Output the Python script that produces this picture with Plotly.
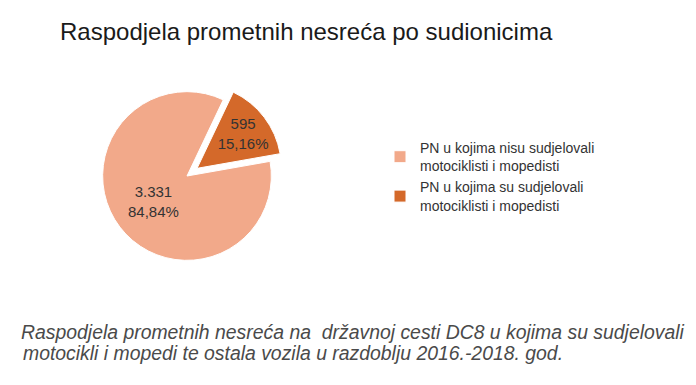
import plotly.graph_objects as go

labels = ["PN u kojima nisu sudjelovali<br>motociklisti i mopedisti",
          "PN u kojima su sudjelovali<br>motociklisti i mopedisti"]
values = [3331, 595]
colors = ["#F2A98A", "#D4692A"]
pulls = [0, 0.15]

title_text = "Raspodjela prometnih nesreća po sudionicima"
caption_lines = ["Raspodjela prometnih nesreća na  državnoj cesti DC8 u kojima su sudjelovali",
                 "motocikli i mopedi te ostala vozila u razdoblju 2016.-2018. god."]

W, H = 696, 385
cx, cy, R = 179, 168, 97

fig = go.Figure(go.Pie(
    labels=labels,
    values=values,
    sort=False,
    direction="clockwise",
    rotation=80,
    pull=pulls,
    marker=dict(colors=colors, line=dict(color="white", width=1)),
    texttemplate="%{value:,}<br>%{percent:.2%}",
    textposition="inside",
    insidetextorientation="horizontal",
    textfont=dict(family="Liberation Sans, Arial", size=15, color="#333333"),
    hoverinfo="skip",
    domain=dict(x=[(cx - R) / W, (cx + R) / W], y=[1 - (cy + R) / H, 1 - (cy - R) / H]),
))

fig.update_layout(
    width=W, height=H, autosize=False,
    margin=dict(l=0, r=0, t=0, b=0),
    paper_bgcolor="white", plot_bgcolor="white",
    separators=",.",
    uniformtext=dict(minsize=15, mode="show"),
    font=dict(family="Liberation Sans, Arial", color="#333333"),
    legend=dict(x=372 / W, y=1 - 124 / H, xanchor="left", yanchor="top",
                font=dict(size=14, color="#333333"), tracegroupgap=6,
                itemwidth=30, bgcolor="rgba(0,0,0,0)"),
    annotations=[
        dict(text=title_text, x=50 / W, y=1 - 23 / H, xref="paper", yref="paper",
             xanchor="left", yanchor="middle", showarrow=False,
             font=dict(size=24, color="#1a1a1a", family="Liberation Sans, Arial")),
        dict(text="<i>" + caption_lines[0] + "</i>", x=12 / W, y=1 - 324 / H,
             xref="paper", yref="paper", xanchor="left", yanchor="middle",
             showarrow=False, borderpad=0,
             font=dict(size=19.4, color="#4a4a4a", family="Liberation Sans, Arial")),
        dict(text="<i>" + caption_lines[1] + "</i>", x=14 / W, y=1 - 345 / H,
             xref="paper", yref="paper", xanchor="left", yanchor="middle",
             showarrow=False, borderpad=0,
             font=dict(size=19.4, color="#4a4a4a", family="Liberation Sans, Arial")),
    ],
)

fig.write_html("out.html")
